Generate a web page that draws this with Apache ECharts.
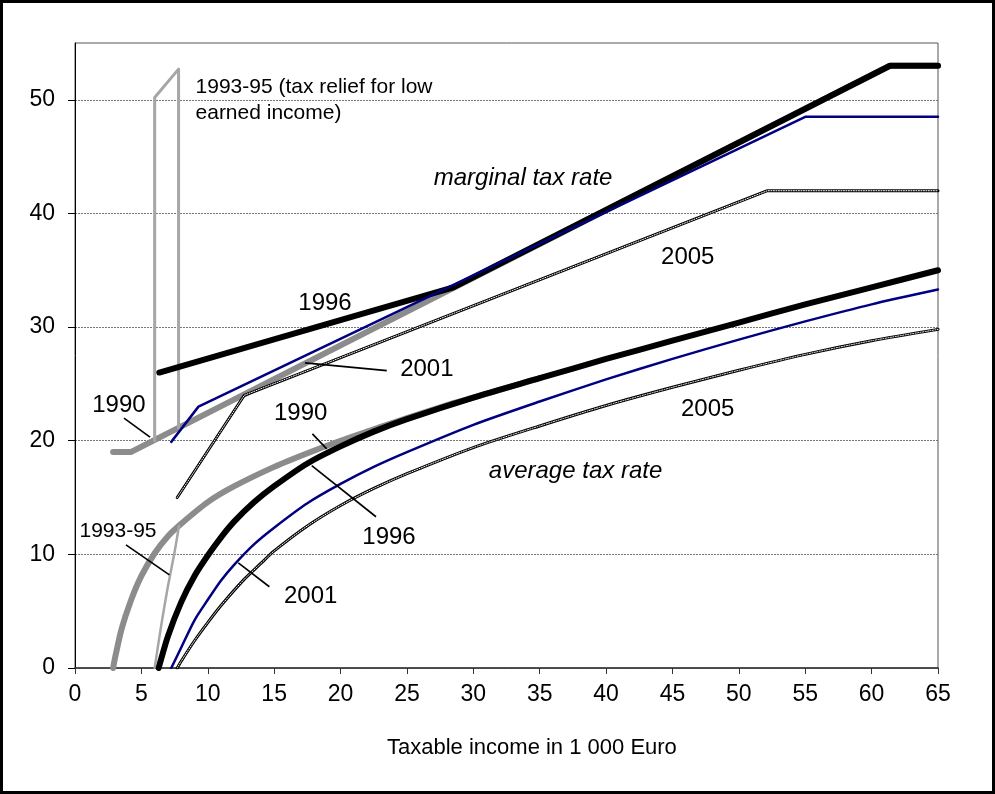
<!DOCTYPE html>
<html>
<head>
<meta charset="utf-8">
<script src="https://cdn.jsdelivr.net/npm/echarts@6/dist/echarts.min.js"></script>
<style>
html,body{margin:0;padding:0;background:#fff;}
#chart{width:995px;height:794px;}
</style>
</head>
<body>
<div id="chart"></div>
<script>
// Axis ticks
const xTicks = [0,5,10,15,20,25,30,35,40,45,50,55,60,65];
const yTicks = [0,10,20,30,40,50];

// Marginal tax rates [income in 1000 Euro, %]
const marginal1990 = [[2.87,19],[4.2,19],[61.38,53],[65,53]];
const marginal1993 = [[6.0,20.0],[6.0,50.2],[7.8,52.7],[7.8,21.1]];
const marginal1996 = [[6.35,26],[28.5,33.5],[61.38,53],[65,53]];
const marginal2001 = [[7.25,19.9],[9.3,23],[55.0,48.5],[65,48.5]];
const marginal2005 = [[7.7,15],[12.75,24],[52.15,42],[65,42]];

// Average tax rates
const average1990 = [[2.87,0],[3,0.8],[3.5,3.4],[4.2,5.9],[5,8.1],[6,10.1],[7,11.6],[8,12.7],[10,14.6],[12,16.0],[15,17.7],[17.5,18.9],[20,20.0],[22.5,21.0],[25,22.0],[28.5,23.3],[30,23.8],[35,25.5]];
const average1993 = [[6.0,0],[6.5,3.8],[7.0,7.2],[7.5,10.2],[7.83,12.5]];
const average1996 = [[6.3,0],[7,2.8],[8,5.8],[9,8.1],[10,9.9],[11,11.5],[12,12.9],[13.5,14.6],[15,16.0],[17.5,18.0],[20,19.5],[22.5,20.8],[25,21.9],[30,23.8],[35,25.5],[40,27.2],[45,28.8],[50,30.4],[55,32.0],[60,33.5],[65,35.0]];
const average2001 = [[7.25,0],[8,1.8],[9,4.2],[10,6.0],[11,7.7],[12,9.1],[13.5,10.9],[15,12.35],[17.5,14.5],[20,16.2],[22.5,17.7],[25,19.0],[30,21.4],[35,23.45],[40,25.4],[45,27.2],[50,28.9],[55,30.5],[60,32.0],[65,33.3]];
const average2005 = [[7.7,0],[8,0.6],[9,2.4],[10,4.0],[11,5.5],[12.74,7.8],[14,9.2],[15,10.3],[17.5,12.5],[20,14.3],[22.5,15.8],[25,17.1],[30,19.4],[35,21.3],[40,23.1],[45,24.7],[50,26.2],[55,27.6],[60,28.8],[65,29.8]];

// Annotation texts (anchor in data coordinates)
const labelTexts = [
  {text:'1993-95 (tax relief for low\nearned income)', at:[9.04,50.0], size:21, italic:false, anchor:'left'},
  {text:'marginal tax rate', at:[33.75,43.1], size:24, italic:true, anchor:'center'},
  {text:'1996', at:[18.83,32.05], size:24, italic:false, anchor:'center'},
  {text:'2001', at:[26.5,26.25], size:24, italic:false, anchor:'center'},
  {text:'1990', at:[3.31,23.15], size:24, italic:false, anchor:'center'},
  {text:'1990', at:[17.0,22.45], size:24, italic:false, anchor:'center'},
  {text:'2005', at:[46.15,36.1], size:24, italic:false, anchor:'center'},
  {text:'2005', at:[47.65,22.8], size:24, italic:false, anchor:'center'},
  {text:'average tax rate', at:[37.7,17.3], size:24, italic:true, anchor:'center'},
  {text:'1996', at:[23.65,11.5], size:24, italic:false, anchor:'center'},
  {text:'2001', at:[17.75,6.3], size:24, italic:false, anchor:'center'},
  {text:'1993-95', at:[3.24,12.0], size:21, italic:false, anchor:'center'}
];
// Leader lines
const leaderLines = [
  [[3.69,21.99],[5.65,20.32]],
  [[17.32,26.85],[23.48,26.17]],
  [[17.88,20.6],[18.96,19.28]],
  [[17.83,17.81],[22.67,13.31]],
  [[12.3,9.26],[14.64,7.15]],
  [[3.84,10.83],[7.11,8.19]]
];

const FONT = '"Liberation Sans", Arial, Helvetica, sans-serif';
const chart = echarts.init(document.getElementById('chart'), null, {renderer:'canvas'});

function line(data, color, width, z, smooth, type) {
  return {
    type:'line', data:data, symbol:'none', z:z, silent:true, animation:false,
    smooth: smooth ? 0.25 : false,
    lineStyle:{color:color, width:width, type:type || 'solid', cap:'round', join:'round'}
  };
}

const GRAY = '#8c8c8c', LGRAY = '#a6a6a6', NAVY = '#000080';
const series = [
  line(marginal1990, GRAY, 6, 2, false),
  line(average1990, GRAY, 6, 2, true),
  line(marginal1993, LGRAY, 3, 3, false),
  line(average1993, LGRAY, 2.5, 3, true),
  line(marginal1996, '#000', 6, 4, false),
  line(average1996, '#000', 6, 4, true),
  line(marginal2001, NAVY, 2.5, 5, false),
  line(average2001, NAVY, 2.5, 5, true),
  line(marginal2005, '#000', 3, 6, false),
  line(marginal2005, '#fff', 1, 7, false, [1,1.5]),
  line(average2005, '#000', 3, 6, true),
  line(average2005, '#fff', 1, 7, true, [1,1.5])
];
leaderLines.forEach(function(seg){
  series.push({type:'line', data:seg, symbol:'none', z:8, silent:true, animation:false,
    lineStyle:{color:'#000', width:1.6}});
});
series.push({
  type:'scatter', z:9, silent:true, animation:false, symbolSize:1,
  itemStyle:{color:'rgba(0,0,0,0)'},
  data: labelTexts.map(function(l){
    return {
      value:l.at,
      label:{
        show:true, formatter:l.text,
        position: l.anchor === 'left' ? 'right' : 'inside',
        distance:0,
        align: l.anchor === 'left' ? 'left' : 'center',
        verticalAlign:'middle',
        fontSize:l.size, lineHeight: l.size + 5,
        fontStyle: l.italic ? 'italic' : 'normal',
        fontFamily:FONT, color:'#000',
        textBorderWidth:0, textBorderColor:'transparent', opacity:1
      }
    };
  })
});

chart.setOption({
  animation:false,
  backgroundColor:'#fff',
  grid:{left:75, right:57, top:43, bottom:126, show:true, borderColor:'#555', borderWidth:1, backgroundColor:'#fff'},
  xAxis:{
    type:'value', min:0, max:65, interval:5,
    axisLine:{show:true, onZero:false, lineStyle:{color:'#333', width:1.5}},
    axisTick:{show:true, inside:false, length:6, lineStyle:{color:'#333'}},
    axisLabel:{fontSize:23, fontFamily:FONT, color:'#000', margin:15,
      formatter:function(v){ return xTicks.indexOf(v) >= 0 ? String(v) : ''; }},
    splitLine:{show:false}
  },
  yAxis:{
    type:'value', min:0, max:55, interval:10,
    axisLine:{show:true, lineStyle:{color:'#000', width:1}},
    axisTick:{show:true, length:7, lineStyle:{color:'#000'}, customValues:yTicks},
    axisLabel:{fontSize:23, fontFamily:FONT, color:'#000', margin:20, customValues:yTicks},
    splitLine:{show:true, lineStyle:{color:'#777', width:1, type:[2,1]}}
  },
  graphic:[
    {type:'rect', shape:{x:1.5, y:1.5, width:992, height:791}, style:{fill:'none', stroke:'#000', lineWidth:3}, z:100},
    {type:'text', left:387, top:737, style:{text:'Taxable income in 1 000 Euro', font:'22px ' + FONT, fill:'#000'}, z:100}
  ],
  series:series
});
</script>
</body>
</html>
